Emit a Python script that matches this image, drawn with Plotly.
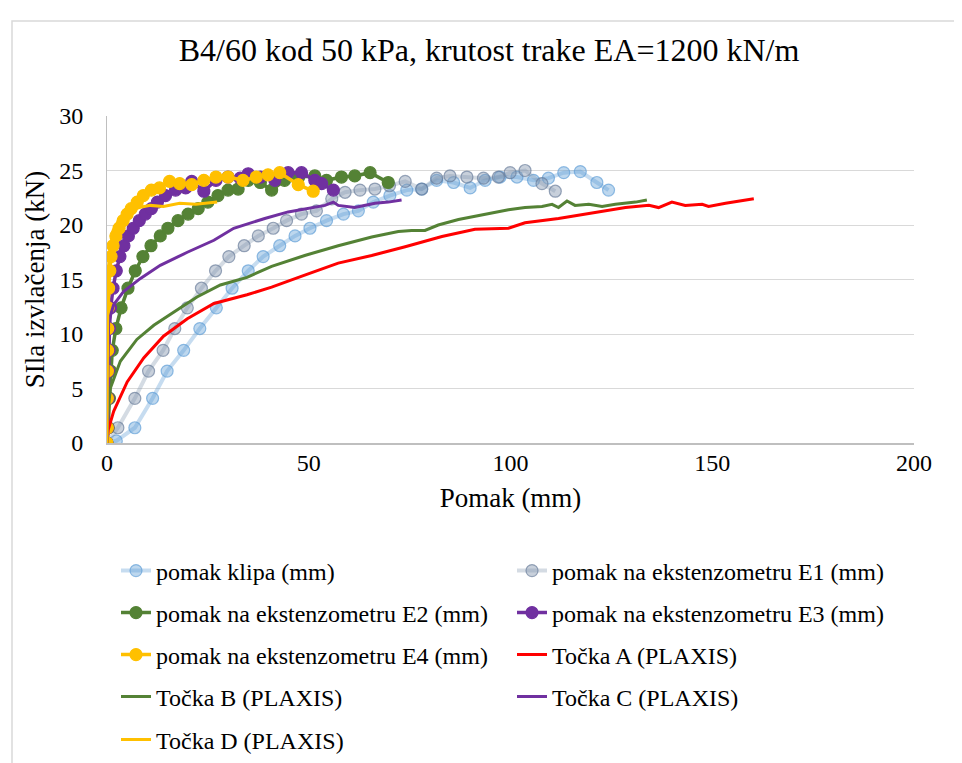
import plotly.graph_objects as go

# ---------------- data ----------------
klipa_x = [0, 2.3, 6.9, 11.3, 14.9, 19, 23, 27.1, 31, 35, 38.7, 42.8, 46.6, 50.3, 54.4, 58.6, 62.3, 66, 70.1,
           74.3, 78, 81.7, 85.9, 90, 93.7, 97.4, 101.6, 105.7, 109.4, 113.2, 117.3, 121.4, 124.3]
klipa_y = [0, 0.2, 1.4, 4.1, 6.6, 8.5, 10.5, 12.4, 14.2, 15.8, 17.1, 18.1, 19.0, 19.7, 20.4, 21.0, 21.3, 22.1, 22.7,
           23.2, 23.3, 24.1, 23.9, 23.4, 24.1, 24.4, 24.4, 24.1, 24.3, 24.8, 24.9, 23.9, 23.2]

e1_x = [0, 2.7, 6.9, 10.3, 13.9, 16.8, 19.9, 23.4, 26.9, 30.2, 34, 37.5, 41.2, 44.5, 48.2, 51.9, 55.7, 59, 62.7,
        66.4, 70, 73.9, 78, 81.7, 85, 89.2, 93.3, 97, 99.9, 103.6, 107.8, 111.1]
e1_y = [0, 1.4, 4.1, 6.6, 8.5, 10.5, 12.4, 14.2, 15.8, 17.1, 18.1, 19.0, 19.7, 20.4, 21.0, 21.3, 22.4, 23.0, 23.2,
        23.3, 23.6, 24.0, 23.3, 24.3, 24.5, 24.4, 24.3, 24.4, 24.8, 25.0, 23.8, 23.1]

e2_x = [0, 0.3, 0.6, 0.9, 1.3, 2.2, 3.5, 5.2, 7, 8.9, 10.9, 13.2, 15.1, 17.6, 20.1, 22.6, 25, 27.5, 30, 32.5,
        35, 38, 40.8, 44, 47.5, 51.5, 54.4, 58.1, 61.4, 65.2, 69.7]
e2_y = [0, 1.4, 4.1, 6.6, 8.5, 10.5, 12.4, 14.2, 15.8, 17.1, 18.1, 19.0, 19.7, 20.4, 21.0, 21.5, 22.1, 22.7, 23.2,
        23.3, 24.1, 23.9, 23.2, 24.1, 24.4, 24.5, 24.1, 24.4, 24.5, 24.8, 23.9]

e3_x = [0, 0.2, 0.3, 0.4, 0.5, 0.6, 0.9, 1.5, 2.3, 3.2, 4.2, 5.3, 6.5, 8, 9.5, 11, 12.5, 14.5, 17, 19.5, 21,
        24, 27, 30, 33, 35, 38, 41.6, 44.9, 48.2, 51.5, 53.2, 56.1]
e3_y = [0, 1.4, 4.1, 6.6, 8.5, 10.5, 12.4, 14.2, 15.8, 17.1, 18.1, 19.0, 19.7, 20.4, 21.0, 21.5, 22.1, 22.7, 23.2,
        23.4, 24.0, 23.1, 24.1, 24.4, 24.3, 24.7, 24.4, 24.1, 24.8, 24.8, 24.1, 23.8, 23.2]

e4_x = [0, 0.1, 0.1, 0.1, 0.15, 0.2, 0.3, 0.4, 0.7, 1.0, 1.5, 2.2, 3.0, 4.0, 5.0, 6.0, 7.5, 9.0, 11.0, 13.0,
        15.5, 18, 21, 24, 27, 30, 33.7, 37, 39.9, 42.8, 47.4, 51.1]
e4_y = [0, 1.4, 4.1, 6.6, 8.5, 10.5, 12.4, 14.2, 15.8, 17.1, 18.1, 19.0, 19.7, 20.4, 21.0, 21.5, 22.1, 22.7, 23.2,
        23.4, 24.0, 23.8, 23.7, 24.1, 24.4, 24.4, 24.1, 24.4, 24.6, 24.8, 23.7, 23.1]

a_x = [0, 0.3, 1.65, 5, 9.1, 14, 19.9, 26.5, 34.7, 40.8, 49, 57.3, 65.6, 73.9, 83, 91.2, 99.5, 103.6, 111.9,
       120.2, 128.5, 134.3, 136.7, 140, 143.3, 147.5, 149.1, 153.3, 157.4, 160.3]
a_y = [0, 1.2, 2.9, 5.6, 7.8, 9.8, 11.4, 12.8, 13.6, 14.3, 15.4, 16.5, 17.2, 18.0, 18.95, 19.6, 19.7, 20.2, 20.6,
       21.1, 21.6, 21.8, 21.6, 22.1, 21.8, 21.9, 21.7, 22.0, 22.2, 22.4]

b_x = [0, 0.1, 0.8, 3.3, 7.4, 11.6, 16.5, 22.3, 28.1, 34.7, 40.8, 49, 57.3, 65.6, 72.2, 75.5, 78.8, 82.1, 87.1,
       91.2, 95.4, 99.5, 103.6, 107.8, 110.3, 111.9, 114, 116, 119.4, 122.7, 126, 131, 133.8]
b_y = [0, 2.0, 5.0, 7.5, 9.5, 10.8, 12.0, 13.4, 14.5, 15.2, 16.2, 17.2, 18.1, 18.9, 19.4, 19.5, 19.5, 20.0, 20.5,
       20.8, 21.1, 21.4, 21.6, 21.7, 21.9, 21.6, 22.2, 21.8, 21.9, 21.7, 21.9, 22.1, 22.3]

c_x = [0, 0.1, 0.3, 0.4, 1.65, 4.1, 8.3, 13.2, 19.9, 26.5, 31.4, 34.7, 39.1, 44.9, 50.7, 54, 56.1, 57.3, 61.4,
       66.4, 69.7, 73]
c_y = [0, 5.0, 10.0, 11.1, 12.7, 13.9, 15.1, 16.3, 17.5, 18.6, 19.7, 20.1, 20.6, 21.2, 21.6, 21.8, 22.1, 21.8, 21.6,
       22.0, 22.1, 22.3]

d_x = [0, 0.05, 0.1, 0.2, 0.5, 1.5, 3, 5, 8, 10.7, 14, 18, 22, 27.3]
d_y = [0, 5.0, 10.0, 14.0, 17.0, 19.5, 20.5, 21.2, 21.6, 21.8, 21.7, 22.0, 21.9, 22.1]

names = ["pomak klipa (mm)", "pomak na ekstenzometru E1 (mm)", "pomak na ekstenzometru E2 (mm)",
         "pomak na ekstenzometru E3 (mm)", "pomak na ekstenzometru E4 (mm)", "Točka A (PLAXIS)",
         "Točka B (PLAXIS)", "Točka C (PLAXIS)", "Točka D (PLAXIS)"]

title_text = "B4/60 kod 50 kPa, krutost trake EA=1200 kN/m"
x_title = "Pomak (mm)"
y_title = "SIla izvlačenja (kN)"
x_ticks = [0, 50, 100, 150, 200]
y_ticks = [0, 5, 10, 15, 20, 25, 30]

FONT = "Liberation Serif"

fig = go.Figure()

def marker_series(x, y, name, line_col, mfill, mline, lw, legend):
    fig.add_trace(go.Scatter(
        x=x, y=y, name=name, mode="lines+markers", legend=legend,
        line=dict(color=line_col, width=lw),
        marker=dict(size=12, color=mfill, line=dict(color=mline, width=1.2)),
    ))

def line_series(x, y, name, col, legend):
    fig.add_trace(go.Scatter(x=x, y=y, name=name, mode="lines", legend=legend,
                             line=dict(color=col, width=3)))

marker_series(klipa_x, klipa_y, names[0], "rgba(91,155,213,0.35)", "rgba(91,155,213,0.40)",
              "rgba(91,155,213,0.65)", 4, "legend")
marker_series(e1_x, e1_y, names[1], "rgba(132,151,176,0.35)", "rgba(132,151,176,0.45)",
              "rgba(100,120,150,0.65)", 4, "legend")
marker_series(e2_x, e2_y, names[2], "#548235", "#548235", "#548235", 3.5, "legend2")
marker_series(e3_x, e3_y, names[3], "#7030A0", "#7030A0", "#7030A0", 3.5, "legend2")
marker_series(e4_x, e4_y, names[4], "#FFC000", "#FFC000", "#FFC000", 3.5, "legend3")
line_series(a_x, a_y, names[5], "#FF0000", "legend3")
line_series(b_x, b_y, names[6], "#548235", "legend4")
line_series(c_x, c_y, names[7], "#7030A0", "legend4")
line_series(d_x, d_y, names[8], "#FFC000", "legend5")

L, R, T, B = 99, 56, 108, 328
W, H = 962, 763
pw, ph = W - L - R, H - T - B

def py_to_paper(py):
    return (H - B - py) / ph

def px_to_paper(px):
    return (px - L) / pw

leg_common = dict(orientation="h", entrywidth=351, entrywidthmode="pixels",
                  font=dict(family=FONT, size=24, color="#000000"),
                  bgcolor="rgba(0,0,0,0)", xanchor="left", yanchor="middle",
                  x=px_to_paper(108), itemwidth=30)
rows = [563, 605, 647, 689, 732]
legends = {}
for i, key in enumerate(["legend", "legend2", "legend3", "legend4", "legend5"]):
    legends[key] = dict(leg_common, y=py_to_paper(rows[i]))

fig.update_layout(
    width=W, height=H,
    margin=dict(l=L, r=R, t=T, b=B, autoexpand=False),
    paper_bgcolor="white", plot_bgcolor="white",
    font=dict(family=FONT, size=24, color="#000000"),
    title=dict(text=title_text, x=0.5, xref="container", xanchor="center",
               y=1 - 42 / H, yref="container", yanchor="middle",
               font=dict(family=FONT, size=32, color="#000000")),
    xaxis=dict(range=[0, 200], tickvals=x_ticks, showgrid=False, zeroline=False,
               showline=True, linecolor="#BFBFBF", linewidth=1.5, ticks="",
               tickfont=dict(family=FONT, size=24), ticklabelstandoff=-3,
               title=dict(text=x_title, font=dict(family=FONT, size=27), standoff=14)),
    yaxis=dict(range=[0, 30], tickvals=y_ticks, showgrid=True, gridcolor="#D9D9D9", gridwidth=1,
               zeroline=False, showline=True, linecolor="#BFBFBF", linewidth=1, ticks="",
               tickfont=dict(family=FONT, size=24), ticklabelstandoff=18,
               title=dict(text=y_title, font=dict(family=FONT, size=27), standoff=6)),
    showlegend=True,
    **legends,
)

# chart-area border (Excel style)
fig.add_shape(type="rect", xref="paper", yref="paper",
              x0=px_to_paper(4), x1=px_to_paper(980), y0=py_to_paper(800), y1=py_to_paper(13),
              line=dict(color="#D9D9D9", width=1.5), layer="below")

fig.write_html("out.html")
